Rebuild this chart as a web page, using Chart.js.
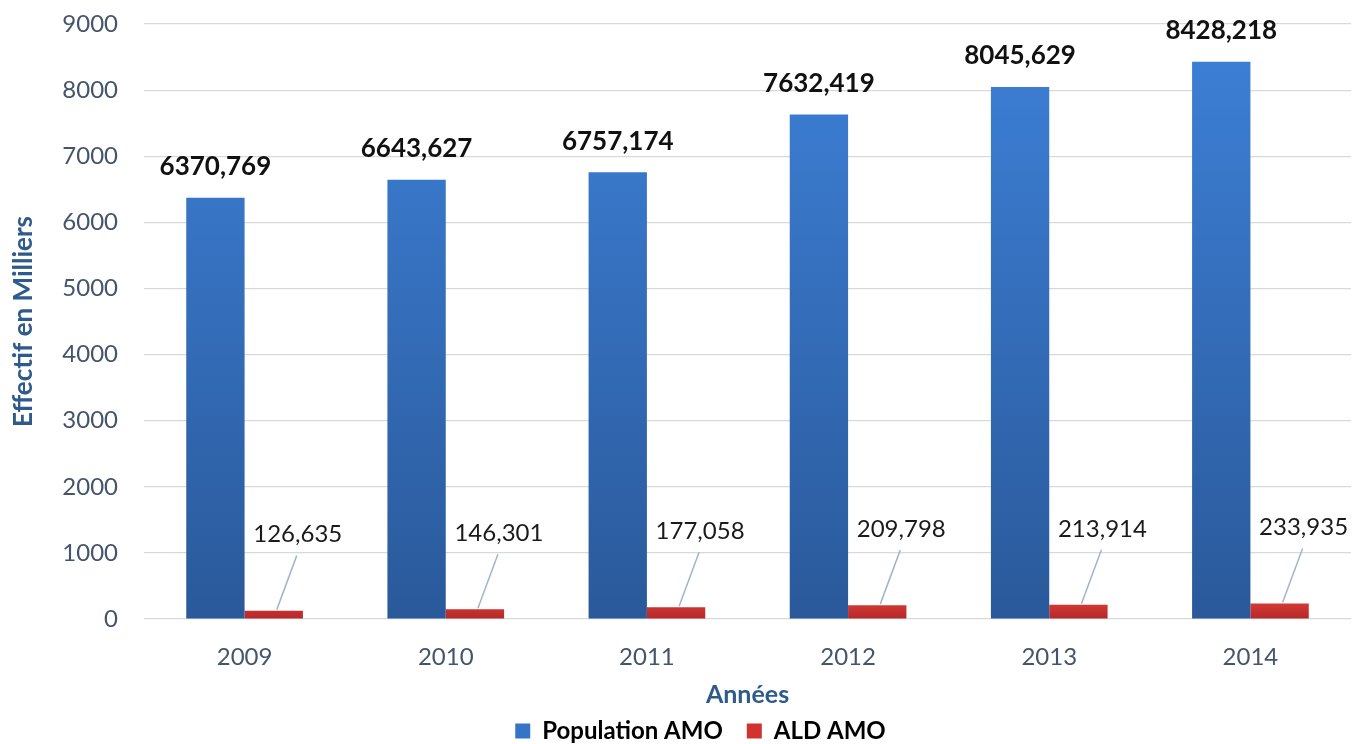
<!DOCTYPE html>
<html>
<head>
<meta charset="utf-8">
<script src="https://cdn.jsdelivr.net/npm/chart.js@4/dist/chart.umd.min.js"></script>
<style>
    html, body { margin: 0; padding: 0; background: #fff; }
    .chart { width: 1353px; height: 744px; }
</style>
</head>
<body>
<div class="chart"><canvas id="chart"></canvas></div>
<script>
const years = ['2009', '2010', '2011', '2012', '2013', '2014'];
const populationAmo = [6370.769, 6643.627, 6757.174, 7632.419, 8045.629, 8428.218];
const aldAmo = [126.635, 146.301, 177.058, 209.798, 213.914, 233.935];

const FONT = 'Lato, "Open Sans", sans-serif';
const TICK_COLOR = '#44546a';
const TITLE_COLOR = '#2f5b8c';

const frNumber = (v) => v.toFixed(3).replace('.', ',');

const blueFill = (ctx) => {
    const area = ctx.chart.chartArea;
    if (!area) {
        return '#3470c2';
    }
    const g = ctx.chart.ctx.createLinearGradient(0, area.bottom, 0, area.top + 40);
    g.addColorStop(0, '#2a599a');
    g.addColorStop(1, '#3c7ed4');
    return g;
};

const redFill = (ctx) => {
    const area = ctx.chart.chartArea;
    if (!area) {
        return '#c62f2b';
    }
    const g = ctx.chart.ctx.createLinearGradient(0, area.bottom, 0, area.bottom - 16);
    g.addColorStop(0, '#b3282a');
    g.addColorStop(1, '#d63a33');
    return g;
};

// value labels: bold above the blue bars, call-outs with a leader line for the red ones
const valueLabels = {
    id: 'valueLabels',
    afterLayout(chart) {
        // nudge the legend a little right of the canvas centre
        chart.legend.left += 25;
        chart.legend.right += 25;
    },
    afterDatasetsDraw(chart) {
        const { ctx } = chart;
        ctx.save();
        ctx.textAlign = 'center';
        ctx.textBaseline = 'middle';

        const blue = chart.getDatasetMeta(0);
        ctx.font = `bold 26px ${FONT}`;
        ctx.fillStyle = '#111';
        blue.data.forEach((bar, i) => {
            ctx.fillText(frNumber(populationAmo[i]), bar.x, bar.y - 31);
        });

        const red = chart.getDatasetMeta(1);
        ctx.font = `24px ${FONT}`;
        red.data.forEach((bar, i) => {
            const lx = bar.x + 24;
            const ly = bar.y - 76;
            ctx.strokeStyle = '#9fb4d0';
            ctx.lineWidth = 1.5;
            ctx.beginPath();
            ctx.moveTo(bar.x + 3, bar.y - 1);
            ctx.lineTo(lx - 1, ly + 21);
            ctx.stroke();
            ctx.fillStyle = '#1a1a1a';
            ctx.fillText(frNumber(aldAmo[i]), lx, ly);
        });
        ctx.restore();
    }
};

const chartInstance = new Chart(document.getElementById('chart').getContext('2d'), {
    type: 'bar',
    data: {
        labels: years,
        datasets: [
            {
                label: 'Population AMO',
                data: populationAmo,
                backgroundColor: blueFill,
                borderWidth: 0,
                categoryPercentage: 0.58,
                barPercentage: 1
            },
            {
                label: 'ALD AMO',
                data: aldAmo,
                backgroundColor: redFill,
                borderWidth: 0,
                categoryPercentage: 0.58,
                barPercentage: 1
            }
        ]
    },
    options: {
        responsive: true,
        maintainAspectRatio: false,
        animation: false,
        layout: {
            padding: { top: 24, right: 2, bottom: -9, left: 0 }
        },
        plugins: {
            tooltip: { enabled: false },
            legend: {
                position: 'bottom',
                labels: {
                    boxWidth: 15,
                    boxHeight: 15,
                    padding: 24,
                    color: '#111',
                    font: { family: FONT, size: 24, weight: 'bold' },
                    generateLabels: (chart) => chart.data.datasets.map((ds, i) => ({
                        text: ds.label,
                        fillStyle: i === 0 ? '#3574c6' : '#d0322d',
                        strokeStyle: 'transparent',
                        lineWidth: 0,
                        datasetIndex: i
                    }))
                }
            }
        },
        scales: {
            x: {
                grid: { display: false, drawTicks: false },
                border: { display: false },
                ticks: {
                    color: TICK_COLOR,
                    padding: 24,
                    font: { family: FONT, size: 24 }
                },
                title: {
                    display: true,
                    text: 'Années',
                    color: TITLE_COLOR,
                    padding: { top: 0, bottom: -12 },
                    font: { family: FONT, size: 25, weight: 'bold', lineHeight: 1 }
                },
                afterFit: (scale) => { scale.height = 76; }
            },
            y: {
                min: 0,
                max: 9000,
                grid: { color: '#d9d9d9', lineWidth: 1.2, drawTicks: true, tickLength: 26, tickColor: 'transparent' },
                border: { display: false },
                ticks: {
                    stepSize: 1000,
                    color: TICK_COLOR,
                    padding: 0,
                    font: { family: FONT, size: 24 },
                    callback: (v) => String(v)
                },
                title: {
                    display: true,
                    text: 'Effectif en Milliers',
                    color: TITLE_COLOR,
                    padding: { top: 11, bottom: 0 },
                    font: { family: FONT, size: 26, weight: 'bold', lineHeight: 1 }
                },
                afterFit: (scale) => { scale.width = 144; }
            }
        }
    },
    plugins: [valueLabels]
});
</script>
</body>
</html>
